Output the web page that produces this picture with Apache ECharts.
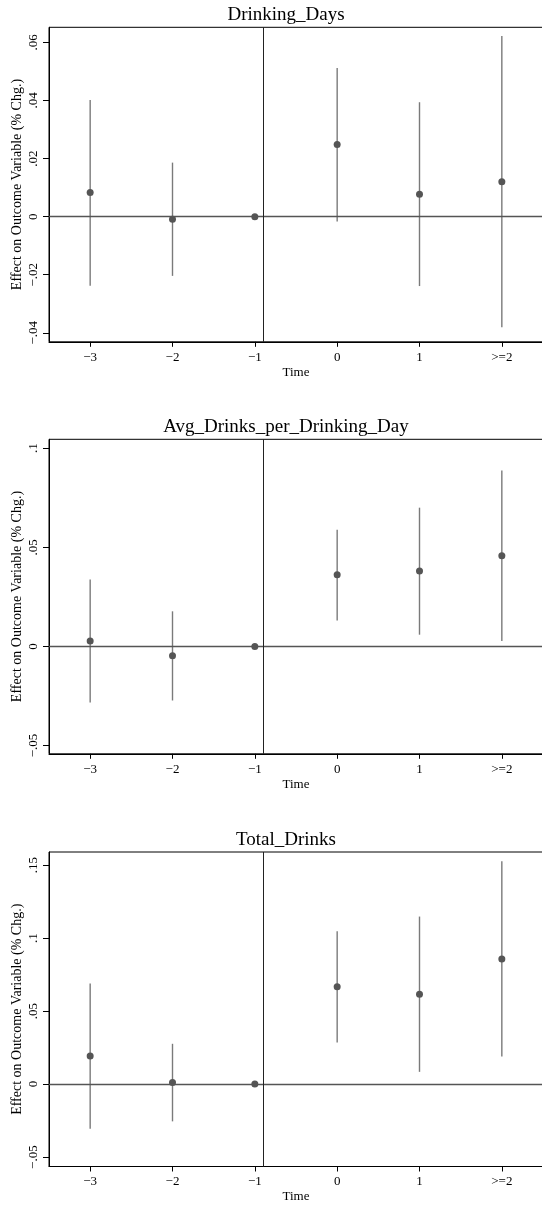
<!DOCTYPE html>
<html>
<head>
<meta charset="utf-8">
<script src="https://cdn.jsdelivr.net/npm/echarts@6/dist/echarts.min.js"></script>
<style>
html,body{margin:0;padding:0;background:#fff;}
#c{width:542px;height:1207px;}
</style>
</head>
<body>
<div id="c"></div>
<script>
// ---- data ----
const times = [-3, -2, -1, 0, 1, 2];
const timeLabels = ['\u22123', '\u22122', '\u22121', '0', '1', '>=2'];
const titles = ['Drinking_Days', 'Avg_Drinks_per_Drinking_Day', 'Total_Drinks'];

const coefDays = [0.0083, -0.0009, 0, 0.0248, 0.0077, 0.0120];
const loDays   = [-0.0238, -0.0204, null, -0.0017, -0.0239, -0.0381];
const hiDays   = [0.0402, 0.0186, null, 0.0512, 0.0394, 0.0622];

const coefAvg = [0.0027, -0.0047, 0, 0.0362, 0.0380, 0.0458];
const loAvg   = [-0.0283, -0.0273, null, 0.0131, 0.0059, 0.0027];
const hiAvg   = [0.0337, 0.0177, null, 0.0589, 0.0700, 0.0887];

const coefTot = [0.0192, 0.0011, 0, 0.0666, 0.0616, 0.0857];
const loTot   = [-0.0306, -0.0255, null, 0.0285, 0.0084, 0.0189];
const hiTot   = [0.0689, 0.0276, null, 0.1047, 0.1147, 0.1526];

const yTicksDays = [-0.04, -0.02, 0, 0.02, 0.04, 0.06];
const yTicksAvg  = [-0.05, 0, 0.05, 0.1];
const yTicksTot  = [-0.05, 0, 0.05, 0.1, 0.15];

const yRanges = [[-0.0431, 0.0652], [-0.0542, 0.1045], [-0.0564, 0.1589]];
const eventLine = -0.9;

// ---- layout ----
const panels = [
  {coef: coefDays, lo: loDays, hi: hiDays, ticks: yTicksDays, top: 27.3, titleTop: 1},
  {coef: coefAvg,  lo: loAvg,  hi: hiAvg,  ticks: yTicksAvg,  top: 439.3, titleTop: 413},
  {coef: coefTot,  lo: loTot,  hi: hiTot,  ticks: yTicksTot,  top: 852,   titleTop: 826}
];
const FONT = 'Liberation Serif';
const gridH = 314.5;

function fmtY(v) {
  let r = Math.round(v * 1000) / 1000;
  if (r === 0) return '0';
  let s = Math.abs(r).toString().replace(/^0/, '');
  return (r < 0 ? '\u2212' : '') + s;
}
function fmtX(v) {
  const i = times.indexOf(Math.round(v));
  return i >= 0 ? timeLabels[i] : '';
}

const grid = [], xAxis = [], yAxis = [], series = [], title = [];
panels.forEach((p, k) => {
  grid.push({left: 49, top: p.top, height: gridH, right: -1, show: true,
    containLabel: false, outerBoundsMode: 'none',
    borderColor: '#000', borderWidth: 1, backgroundColor: '#fff'});
  title.push({text: titles[k], left: 281, textAlign: 'center', top: p.titleTop,
    textStyle: {fontFamily: FONT, fontSize: 19, fontWeight: 'normal', color: '#000'}});
  xAxis.push({type: 'value', gridIndex: k, min: -3.5, max: 2.5,
    name: 'Time', nameLocation: 'middle', nameGap: 24, nameMoveOverlap: false,
    nameTextStyle: {fontFamily: FONT, fontSize: 13, color: '#000'},
    axisLine: {show: true, onZero: false, lineStyle: {color: '#000', width: 1}},
    axisTick: {show: true, length: 5, customValues: times, lineStyle: {color: '#000'}},
    axisLabel: {customValues: times, formatter: fmtX, margin: 9,
      fontFamily: FONT, fontSize: 13, color: '#000'},
    splitLine: {show: false}});
  yAxis.push({type: 'value', gridIndex: k, min: yRanges[k][0], max: yRanges[k][1],
    name: 'Effect on Outcome Variable (% Chg.)', nameLocation: 'middle', nameGap: 25,
    nameMoveOverlap: false,
    nameTextStyle: {fontFamily: FONT, fontSize: 14, color: '#000'},
    axisLine: {show: true, onZero: false, lineStyle: {color: '#000', width: 1}},
    axisTick: {show: true, length: 6, customValues: p.ticks, lineStyle: {color: '#000'}},
    axisLabel: {customValues: p.ticks, formatter: fmtY, rotate: 90, margin: 9,
      fontFamily: FONT, fontSize: 13, color: '#000'},
    splitLine: {show: false}});

  const bars = [];
  times.forEach((t, i) => { if (p.lo[i] !== null) bars.push([t, p.lo[i], p.hi[i]]); });
  series.push({type: 'custom', xAxisIndex: k, yAxisIndex: k, z: 2, silent: true,
    data: bars,
    renderItem: function (params, api) {
      const a = api.coord([api.value(0), api.value(1)]);
      const b = api.coord([api.value(0), api.value(2)]);
      return {type: 'line', shape: {x1: a[0], y1: a[1], x2: b[0], y2: b[1]},
        style: {stroke: '#7a7a7a', lineWidth: 1.4}};
    },
    markLine: {silent: true, symbol: 'none', animation: false, label: {show: false},
      data: [
        {yAxis: 0, lineStyle: {color: '#555', width: 1.3, type: 'solid'}},
        {xAxis: eventLine, lineStyle: {color: '#222', width: 1, type: 'solid'}}
      ]}
  });
  series.push({type: 'scatter', xAxisIndex: k, yAxisIndex: k, z: 3, silent: true,
    symbol: 'circle', symbolSize: 7, itemStyle: {color: '#555', opacity: 1},
    data: times.map((t, i) => [t, p.coef[i]])});
});

const chart = echarts.init(document.getElementById('c'), null, {renderer: 'canvas'});
chart.setOption({animation: false, backgroundColor: '#fff', title, grid, xAxis, yAxis, series});
</script>
</body>
</html>
